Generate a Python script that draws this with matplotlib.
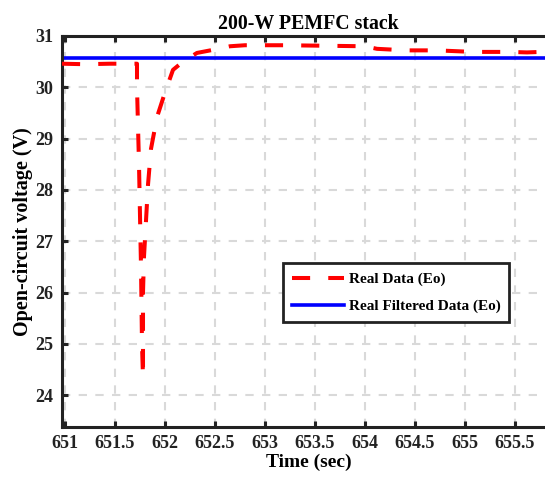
import matplotlib.pyplot as plt

# %% data
t_real = [650.97, 651.2, 651.45, 651.72, 651.72, 651.74, 651.76, 651.77, 651.78,
          651.78, 651.79, 651.81, 651.83, 651.86, 651.92, 652.0, 652.08, 652.18,
          652.32, 652.48, 652.65, 652.8, 653.2, 653.6, 654.0, 654.12, 654.42,
          654.72, 655.08, 655.45, 655.62, 655.9]
v_real = [30.46, 30.45, 30.46, 30.46, 30.0, 28.5, 26.5, 25.0, 24.35,
          26.0, 26.7, 27.4, 28.1, 28.8, 29.42, 29.9, 30.34, 30.5,
          30.67, 30.73, 30.8, 30.82, 30.82, 30.81, 30.8, 30.75, 30.72,
          30.72, 30.69, 30.69, 30.68, 30.7]
t_filt = [650.97, 655.9]
v_filt = [30.58, 30.58]

xticks = [651, 651.5, 652, 652.5, 653, 653.5, 654, 654.5, 655, 655.5]
xticklabels = ["651", "651.5", "652", "652.5", "653", "653.5", "654", "654.5", "655", "655.5"]
yticks = [24, 25, 26, 27, 28, 29, 30, 31]

# %% plot
plt.rcParams["font.family"] = ["Liberation Serif", "DejaVu Serif"]
plt.rcParams["font.weight"] = "bold"

fig = plt.figure(figsize=(5.45, 4.79), dpi=100)
ax = fig.add_axes([62 / 545, 1 - 427 / 479, 493 / 545, 391 / 479])

ax.plot(t_real, v_real, color="red", lw=2.9, dashes=(4.5, 4.5),
        label="Real Data (Eo)", zorder=3)
ax.plot(t_filt, v_filt, color="blue", lw=2.6, label="Real Filtered Data (Eo)", zorder=2)

ax.set_xlim(650.97, 655.9)
ax.set_ylim(23.38, 31)
ax.set_xticks(xticks)
ax.set_xticklabels(xticklabels)
ax.set_yticks(yticks)

ax.grid(True, color="#d9d9d9", lw=1.5, linestyle=(0, (4, 4)))
ax.set_axisbelow(True)
for s in ax.spines.values():
    s.set_linewidth(2.2)
    s.set_color("#222222")
ax.tick_params(direction="in", top=True, right=True, length=4, width=2.2,
               labelsize=13, pad=6, colors="#222222")
for lab in ax.get_xticklabels() + ax.get_yticklabels():
    lab.set_fontweight("bold")

ax.set_title("200-W PEMFC stack", fontsize=14.3, fontweight="bold", pad=5)
ax.set_xlabel("Time (sec)", fontsize=14, fontweight="bold", labelpad=1)
ax.set_ylabel("Open-circuit voltage (V)", fontsize=14.5, fontweight="bold", labelpad=2)

leg = ax.legend(loc="upper left", bbox_to_anchor=(0.448, 0.419), borderaxespad=0,
                fancybox=False, edgecolor="#222222", framealpha=1,
                prop={"weight": "bold", "size": 11}, handlelength=3.4,
                handletextpad=0.3, labelspacing=0.85, borderpad=0.6)
leg.get_frame().set_linewidth(2)

fig.savefig("out.png", dpi=100)
